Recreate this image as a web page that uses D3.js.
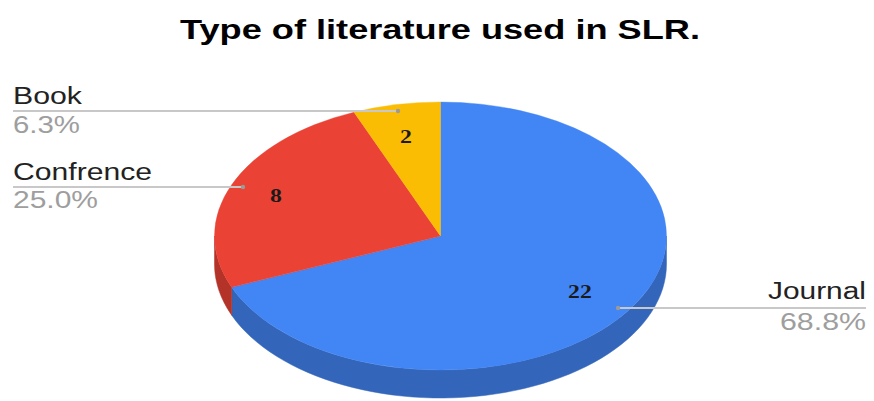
<!DOCTYPE html>
<html><head><meta charset="utf-8">
<script src="https://cdn.jsdelivr.net/npm/d3@7"></script>
<style>body{margin:0;background:#fff}svg{display:block}</style>
</head><body>
<svg id="c" width="874" height="401"></svg>
<script>
const categories = ["Journal", "Confrence", "Book"];
const values = [22, 8, 2];
const colors = ["#4285f4", "#ea4335", "#fbbc04"];
const title = "Type of literature used in SLR.";

const svg = d3.select("#c");
const cx = 440.5, cy = 236, rx = 226, ry = 134, depth = 28;
const total = d3.sum(values);
const pie = d3.pie().sort(null).value(d => d)(values);

// title
svg.append("text").attr("x", 440).attr("y", 39).attr("text-anchor", "middle")
  .attr("font-family", "Liberation Sans, Arial, sans-serif").attr("font-weight", "bold")
  .attr("font-size", 28).attr("fill", "#000")
  .attr("textLength", 520).attr("lengthAdjust", "spacingAndGlyphs").text(title);

const pt = (a, dy = 0) => [cx + rx * Math.sin(a), cy - ry * Math.cos(a) + dy];

// side walls (visible front half: angles PI/2 .. 3PI/2)
const g = svg.append("g");
pie.forEach((s, i) => {
  const a0 = Math.max(s.startAngle, Math.PI / 2), a1 = Math.min(s.endAngle, 3 * Math.PI / 2);
  if (a1 <= a0) return;
  const n = 60;
  const angs = d3.range(n + 1).map(k => a0 + (a1 - a0) * k / n);
  const top = angs.map(a => pt(a));
  const bot = angs.slice().reverse().map(a => pt(a, depth));
  g.append("path").attr("d", d3.line()(top.concat(bot)) + "Z")
    .attr("fill", d3.color(colors[i]).darker(0.75)).attr("stroke", d3.color(colors[i]).darker(0.75)).attr("stroke-width", 0.5);
});

// top faces
const arc = d3.arc().innerRadius(0).outerRadius(rx);
const topG = svg.append("g").attr("transform", `translate(${cx},${cy}) scale(1,${ry / rx})`);
topG.selectAll("path").data(pie).join("path")
  .attr("d", arc).attr("fill", (d, i) => colors[i]).attr("stroke", (d, i) => colors[i]).attr("stroke-width", 0.5);

// value labels
const valPos = [[580, 298], [276, 202], [406, 143]];
const vlabels = [[0.62, 0], [0.7, 0], [0.78, 0]];
pie.forEach((s, i) => {
  svg.append("text").attr("x", valPos[i][0]).attr("y", valPos[i][1]).attr("text-anchor", "middle")
    .attr("font-family", "Liberation Serif, Times New Roman, serif").attr("font-weight", "bold")
    .attr("font-size", 19).attr("fill", "#1a1a1a")
    .attr("transform", `translate(${valPos[i][0]},0) scale(1.25,1) translate(${-valPos[i][0]},0)`)
    .text(values[i]);
});

// outside labels with leader lines
const fmt = d3.format(".1f");
const labelSpec = [
  {x: 866, anchor: "end", ly: 308, dot: 618, nameY: 299, pctY: 330, nameW: 98, pctW: 86},
  {x: 13, anchor: "start", ly: 187, dot: 243, nameY: 180, pctY: 208, nameW: 139, pctW: 85},
  {x: 13, anchor: "start", ly: 111, dot: 398, nameY: 104, pctY: 133, nameW: 69, pctW: 67}
];
pie.forEach((s, i) => {
  const L = labelSpec[i];
  svg.append("line").attr("x1", L.x).attr("x2", L.dot).attr("y1", L.ly).attr("y2", L.ly)
    .attr("stroke", "#c8c8c8").attr("stroke-width", 2);
  svg.append("circle").attr("cx", L.dot).attr("cy", L.ly).attr("r", 2.2).attr("fill", "#9a9a9a");
  svg.append("text").attr("x", L.x).attr("y", L.nameY).attr("text-anchor", L.anchor)
    .attr("font-family", "Liberation Sans, Arial, sans-serif").attr("font-size", 23).attr("fill", "#222")
    .attr("textLength", L.nameW).attr("lengthAdjust", "spacingAndGlyphs").text(categories[i]);
  svg.append("text").attr("x", L.x).attr("y", L.pctY).attr("text-anchor", L.anchor)
    .attr("font-family", "Liberation Sans, Arial, sans-serif").attr("font-size", 23).attr("fill", "#9e9e9e")
    .attr("textLength", L.pctW).attr("lengthAdjust", "spacingAndGlyphs")
    .text(fmt(values[i] / total * 100) + "%");
});
</script>
</body></html>
